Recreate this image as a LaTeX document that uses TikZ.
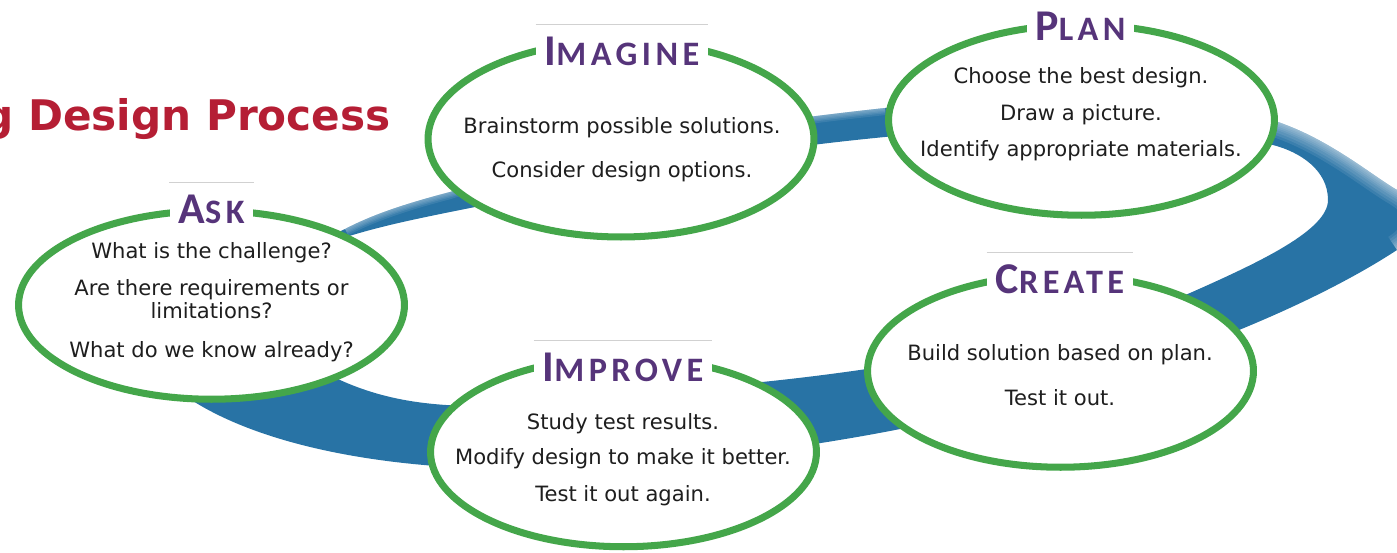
\documentclass[tikz,border=0pt]{standalone}
\usepackage{fontspec}
\setmainfont{DejaVu Sans}
\newfontfamily\labfont{Carlito}
\newfontfamily\titlefont{DejaVu Sans}
\usetikzlibrary{shapes.geometric}
\definecolor{bandblue}{RGB}{40,115,165}
\definecolor{stagegreen}{RGB}{68,166,74}
\definecolor{labpurple}{RGB}{86,52,122}
\definecolor{titlered}{RGB}{181,30,52}
\definecolor{bodytext}{RGB}{30,30,30}
\newcommand\lbl[2]{{\fontsize{25}{25}\selectfont #1}{\fontsize{19.5}{19.5}\selectfont\addfontfeature{LetterSpace=13}#2}}
\newcommand\bandpath{
 (165,380) .. controls (220,430) and (330,462) .. (470,468)
 .. controls (620,474) and (800,450) .. (920,425)
 .. controls (1100,390) and (1290,320) .. (1397,250)
 .. controls (1425,232) and (1428,208) .. (1397,190)
 .. controls (1370,174) and (1330,140) .. (1278,122)
 .. controls (1150,90) and (950,100) .. (885,108)
 .. controls (700,128) and (560,155) .. (450,192)
 .. controls (400,205) and (370,216) .. (345,229)
 .. controls (250,275) and (140,330) .. (165,380) -- cycle
 (340,380) .. controls (380,398) and (420,405) .. (470,406)
 .. controls (600,405) and (700,390) .. (762,382)
 .. controls (900,368) and (1090,335) .. (1190,293)
 .. controls (1260,262) and (1328,230) .. (1328,200)
 .. controls (1328,170) and (1300,152) .. (1273,145)
 .. controls (1150,120) and (950,130) .. (885,137)
 .. controls (750,150) and (600,175) .. (475,207)
 .. controls (420,218) and (380,226) .. (343,238)
 .. controls (290,260) and (290,350) .. (340,380) -- cycle}
\begin{document}
\begin{tikzpicture}[x=0.02cm,y=-0.02cm,
  stage/.style={ellipse, draw=stagegreen, line width=4pt, fill=white, minimum width=7.72cm, inner sep=0pt},
  lab/.style={anchor=base, fill=white, inner xsep=5pt, inner ysep=7pt, text height=16pt, text depth=4pt, text=labpurple, font=\labfont\bfseries},
  faint/.style={draw=black!18, line width=0.5pt},
  body/.style={anchor=base, inner sep=0pt, text=bodytext, font=\fontsize{12}{14}\selectfont},
  band/.style={fill=bandblue, even odd rule},
  glow/.style={draw=white, opacity=0.09}]
\useasboundingbox (0,0) rectangle (1397,552);
\clip (0,0) rectangle (1397,552);
% blue ring (outer boundary, then inner boundary)
\fill[band] \bandpath;
\begin{scope}[even odd rule]
  \clip \bandpath;
  \foreach \w in {18pt,15pt,12pt,9pt,7pt,5pt,3pt,1.5pt}{
    \draw[glow, line width=\w] (1397,250) .. controls (1425,232) and (1428,208) .. (1397,190)
      .. controls (1370,174) and (1330,140) .. (1278,122);
  }
  \foreach \w in {8pt,6pt,4.5pt,3pt,1.5pt}{
    \draw[glow, line width=\w] (885,108) .. controls (700,128) and (560,155) .. (450,192)
      .. controls (400,205) and (370,216) .. (345,229);
  }
\end{scope}
% title
\node[anchor=base east, inner sep=0pt, text=titlered, font=\titlefont\bfseries\fontsize{24}{28}\selectfont] (title) at (391,130) {g Design Process};
% stages
\node[stage, minimum height=3.77cm] (ask) at (211.5,305) {};
\node[stage, minimum height=3.92cm] (imagine) at (621,139) {};
\node[stage, minimum height=3.81cm] (plan) at (1081.5,120) {};
\node[stage, minimum height=3.85cm] (create) at (1060.5,371) {};
\node[stage, minimum height=3.79cm] (improve) at (623.5,452) {};
% labels
\node[lab] (askL) at (211.5,223) {\lbl{A}{SK}};
\node[lab] (imagineL) at (622,65) {\lbl{I}{MAGINE}};
\node[lab] (planL) at (1080.5,40) {\lbl{P}{LAN}};
\node[lab] (createL) at (1060,293) {\lbl{C}{REATE}};
\node[lab] (improveL) at (623,381) {\lbl{I}{MPROVE}};
\foreach \n in {askL,imagineL,planL,createL,improveL}
  \draw[faint] (\n.north west) -- (\n.north east);
% texts
\node[body] (ask1) at (211.5,258) {What is the challenge?};
\node[body] (ask2) at (211.5,295) {Are there requirements or};
\node[body] (ask3) at (211.5,318) {limitations?};
\node[body] (ask4) at (211.5,357) {What do we know already?};
\node[body] (im1) at (622,133) {Brainstorm possible solutions.};
\node[body] (im2) at (622,177) {Consider design options.};
\node[body] (pl1) at (1081,83) {Choose the best design.};
\node[body] (pl2) at (1081,120) {Draw a picture.};
\node[body] (pl3) at (1081,156) {Identify appropriate materials.};
\node[body] (cr1) at (1060,360) {Build solution based on plan.};
\node[body] (cr2) at (1060,405) {Test it out.};
\node[body] (ip1) at (623,429) {Study test results.};
\node[body] (ip2) at (623,464) {Modify design to make it better.};
\node[body] (ip3) at (623,501) {Test it out again.};
\end{tikzpicture}
\end{document}
